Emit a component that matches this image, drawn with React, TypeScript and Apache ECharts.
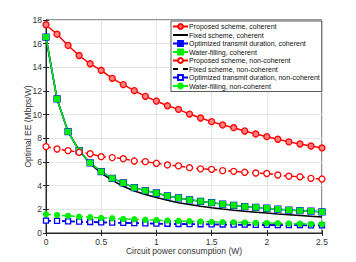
import React, { useEffect, useRef } from "react";
import * as echarts from "echarts";

const xs = [0, 0.1, 0.2, 0.3, 0.4, 0.5, 0.6, 0.7, 0.8, 0.9, 1.0, 1.1, 1.2, 1.3, 1.4, 1.5, 1.6, 1.7, 1.8, 1.9, 2.0, 2.1, 2.2, 2.3, 2.4, 2.5];

const proposedCoherent = [17.6, 16.8, 15.85, 15.0, 14.3, 13.75, 13.07, 12.54, 12.03, 11.55, 11.15, 10.75, 10.45, 10.05, 9.72, 9.41, 9.13, 8.9, 8.62, 8.37, 8.14, 7.92, 7.7, 7.52, 7.35, 7.19];
const fixedCoherent = [16.5, 11.3, 8.55, 7.0, 5.85, 5.05, 4.45, 3.95, 3.55, 3.25, 3.0, 2.76, 2.55, 2.4, 2.26, 2.14, 2.03, 1.93, 1.84, 1.76, 1.68, 1.6, 1.54, 1.48, 1.42, 1.36];
const optDurCoherent = [16.55, 11.33, 8.56, 6.95, 5.92, 5.18, 4.62, 4.23, 3.83, 3.58, 3.38, 3.13, 2.96, 2.8, 2.68, 2.56, 2.44, 2.34, 2.23, 2.17, 2.09, 2.01, 1.94, 1.89, 1.85, 1.78];
const waterCoherent = [16.55, 11.33, 8.56, 6.95, 5.92, 5.18, 4.62, 4.23, 3.83, 3.58, 3.38, 3.13, 2.96, 2.8, 2.68, 2.56, 2.44, 2.34, 2.23, 2.17, 2.09, 2.01, 1.94, 1.89, 1.85, 1.78];
const proposedNonCoherent = [7.3, 7.1, 6.96, 6.82, 6.7, 6.45, 6.37, 6.28, 6.08, 6.03, 5.89, 5.75, 5.67, 5.52, 5.42, 5.38, 5.27, 5.21, 5.13, 5.07, 5.03, 4.9, 4.8, 4.75, 4.62, 4.56];
const fixedNonCoherent = [1.04, 1.01, 0.98, 0.95, 0.92, 0.89, 0.87, 0.85, 0.83, 0.81, 0.79, 0.77, 0.75, 0.74, 0.73, 0.72, 0.71, 0.7, 0.69, 0.68, 0.67, 0.66, 0.66, 0.65, 0.64, 0.64];
const optDurNonCoherent = [1.05, 1.02, 0.99, 0.96, 0.93, 0.9, 0.88, 0.86, 0.84, 0.82, 0.8, 0.78, 0.76, 0.75, 0.74, 0.73, 0.72, 0.71, 0.7, 0.69, 0.68, 0.67, 0.67, 0.66, 0.65, 0.65];
const waterNonCoherent = [1.58, 1.52, 1.45, 1.38, 1.33, 1.28, 1.24, 1.19, 1.16, 1.12, 1.09, 1.05, 1.02, 0.99, 0.97, 0.94, 0.92, 0.9, 0.88, 0.86, 0.84, 0.82, 0.8, 0.78, 0.76, 0.75];

const seriesNames = [
  "Proposed scheme, coherent",
  "Fixed scheme, coherent",
  "Optimized transmit duration, coherent",
  "Water-filling, coherent",
  "Proposed scheme, non-coherent",
  "Fixed scheme, non-coherent",
  "Optimized transmit duration, non-coherent",
  "Water-filling, non-coherent",
];

const xTicks = { min: 0, max: 2.5, interval: 0.5 };
const yTicks = { min: 0, max: 18, interval: 2 };

const pair = (ys: number[]) => xs.map((x, i) => [x, ys[i]]);

export default function App() {
  const ref = useRef<HTMLDivElement>(null);
  useEffect(() => {
    if (!ref.current) return;
    const chart = echarts.init(ref.current, null, { renderer: "svg" });
    const font = "'Liberation Sans', Arial, sans-serif";
    const axisColor = "#262626";
    const red = "#ff0000";
    const green = "#00f000";
    const blue = "#0000ff";
    const mk = (
      name: string,
      data: number[],
      color: string,
      dashed: boolean,
      symbol: string,
      symbolSize: number,
      fill: string,
      showSymbol = true
    ) => ({
      name,
      type: "line",
      data: pair(data),
      symbol,
      symbolSize,
      showSymbol,
      lineStyle: { color, width: 1.5, type: dashed ? [5, 3] : "solid" },
      itemStyle: { color: fill, borderColor: color, borderWidth: 1.3 },
    });
    const legendData = seriesNames.map((n, i) => {
      const dashed = i >= 4;
      const item: any = { name: n };
      if (dashed) item.lineStyle = { type: [5, 5] };
      if (i === 1 || i === 5) item.itemStyle = { opacity: 0 };
      return item;
    });
    chart.setOption({
      animation: false,
      backgroundColor: "#fff",
      textStyle: { fontFamily: font },
      grid: {
        left: 46,
        right: 34,
        top: 20,
        bottom: 29,
        show: true,
        borderColor: axisColor,
        borderWidth: 1,
        backgroundColor: "transparent",
      },
      legend: {
        orient: "vertical",
        left: 171,
        top: 21,
        backgroundColor: "#fff",
        borderColor: "#333",
        borderWidth: 0.8,
        padding: [2, 2, 2, 1],
        itemWidth: 15,
        itemHeight: 6,
        itemGap: 1.5,
        textStyle: { fontSize: 7, color: "#111", fontFamily: font, padding: [0, 0, 0, -4] },
        data: legendData,
      },
      xAxis: [
        {
          type: "value",
          ...xTicks,
          name: "Circuit power consumption (W)",
          nameLocation: "middle",
          nameGap: 13,
          nameMoveOverlap: false,
          nameTextStyle: { fontSize: 8.5, color: "#333" },
          axisLine: { show: true, lineStyle: { color: axisColor } },
          axisTick: { inside: true, length: 3, lineStyle: { color: axisColor } },
          axisLabel: { fontSize: 8.5, color: "#333", margin: 4, formatter: (v: number) => String(v) },
          splitLine: { show: true, lineStyle: { color: "#e5e5e5", width: 1 } },
        },
        {
          type: "value",
          ...xTicks,
          position: "top",
          axisLine: { show: true, lineStyle: { color: axisColor } },
          axisTick: { inside: true, length: 3, lineStyle: { color: axisColor } },
          axisLabel: { show: false },
          splitLine: { show: false },
        },
      ],
      yAxis: [
        {
          type: "value",
          ...yTicks,
          name: "Optimal EE (Mbps/W)",
          nameLocation: "middle",
          nameGap: 14,
          nameMoveOverlap: false,
          nameTextStyle: { fontSize: 8.5, color: "#333" },
          axisLine: { show: true, lineStyle: { color: axisColor } },
          axisTick: { inside: true, length: 3, lineStyle: { color: axisColor } },
          axisLabel: { fontSize: 8.5, color: "#333", margin: 4 },
          splitLine: { show: true, lineStyle: { color: "#e5e5e5", width: 1 } },
        },
        {
          type: "value",
          ...yTicks,
          position: "right",
          axisLine: { show: true, lineStyle: { color: axisColor } },
          axisTick: { inside: true, length: 3, lineStyle: { color: axisColor } },
          axisLabel: { show: false },
          splitLine: { show: false },
        },
      ],
      series: [
        mk(seriesNames[0], proposedCoherent, red, false, "circle", 6, "#ff8080"),
        mk(seriesNames[1], fixedCoherent, "#000000", false, "none", 0, "#000000", false),
        mk(seriesNames[2], optDurCoherent, blue, false, "rect", 6, blue),
        mk(seriesNames[3], waterCoherent, green, false, "rect", 5, green),
        mk(seriesNames[4], proposedNonCoherent, red, true, "circle", 6, "#ffffff"),
        mk(seriesNames[5], fixedNonCoherent, "#000000", true, "none", 0, "#000000", false),
        mk(seriesNames[6], optDurNonCoherent, blue, true, "rect", 5, "#ffffff"),
        mk(seriesNames[7], waterNonCoherent, green, true, "circle", 5, green),
      ],
    });
    return () => chart.dispose();
  }, []);
  return <div ref={ref} style={{ position: "fixed", left: 0, top: 0, width: 356, height: 262 }} />;
}
